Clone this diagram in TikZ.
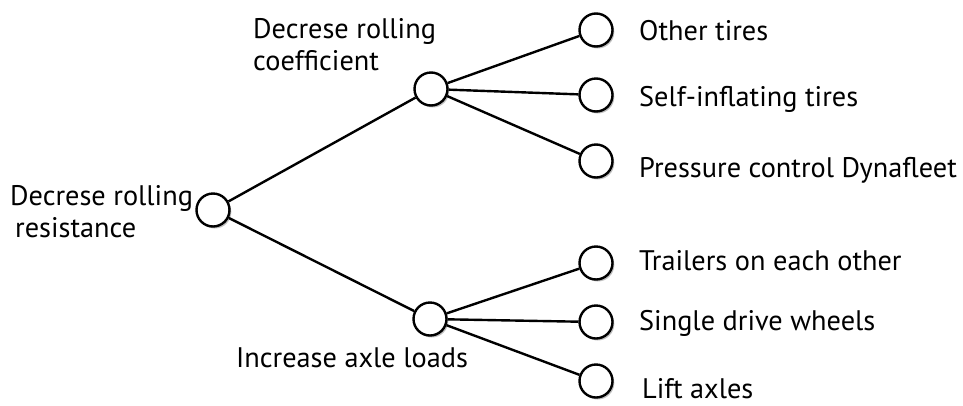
\documentclass[tikz,border=0pt]{standalone}
\usepackage{fontspec}
\setmainfont{PT Sans}
\usetikzlibrary{shadows}
\begin{document}
\begin{tikzpicture}[x=1pt,y=-1pt,
  dot/.style={circle,draw=black,line width=2.4pt,fill=white,minimum size=33pt,inner sep=0pt,
    drop shadow={shadow xshift=1.8pt,shadow yshift=-2pt,opacity=0.5,fill=gray}},
  link/.style={line width=2.4pt,black},
  lbl/.style={font=\fontsize{28.3}{32}\selectfont,inner sep=0pt,anchor=base west,align=left}]
\useasboundingbox (0,0) rectangle (963,405);
\node[dot] (root) at (213,210) {};
\node[dot] (up) at (431,89) {};
\node[dot] (low) at (430,319) {};
\node[dot] (l1) at (596,30) {};
\node[dot] (l2) at (596,95) {};
\node[dot] (l3) at (596,161) {};
\node[dot] (l4) at (596,263) {};
\node[dot] (l5) at (596,322) {};
\node[dot] (l6) at (596,381) {};
\draw[link] (root) -- (up);
\draw[link] (root) -- (low);
\draw[link] (up) -- (l1);
\draw[link] (up) -- (l2);
\draw[link] (up) -- (l3);
\draw[link] (low) -- (l4);
\draw[link] (low) -- (l5);
\draw[link] (low) -- (l6);
\node[lbl] (troot) at (10,237) {Decrese rolling\\\hspace{5pt}resistance};
\node[lbl] (tup) at (253,70) {Decrese rolling\\coefficient};
\node[lbl] (tlow) at (236,367) {Increase axle loads};
\node[lbl] (t1) at (639,40) {Other tires};
\node[lbl] (t2) at (639,106) {Self-inflating tires};
\node[lbl] (t3) at (639,177) {Pressure control Dynafleet};
\node[lbl] (t4) at (639,270) {Trailers on each other};
\node[lbl] (t5) at (639,330) {Single drive wheels};
\node[lbl] (t6) at (642,398) {Lift axles};
\end{tikzpicture}
\end{document}
